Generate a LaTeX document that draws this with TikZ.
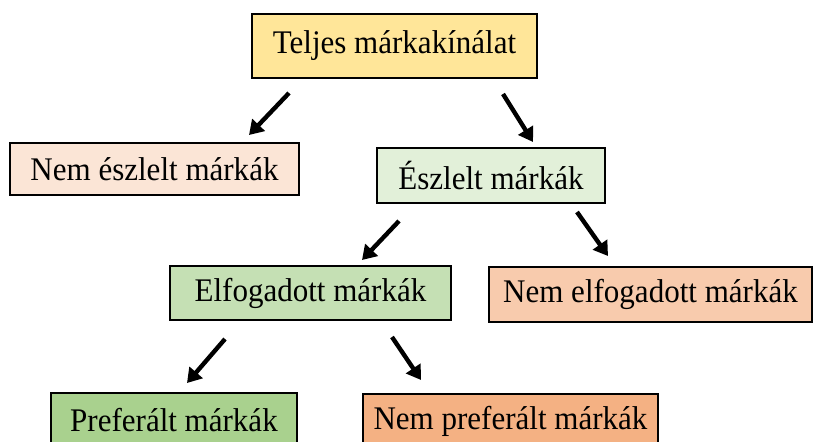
\documentclass[tikz,border=0pt]{standalone}
\usepackage{fontspec}
\setmainfont{Liberation Serif}[FakeStretch=0.94]
\usetikzlibrary{arrows.meta}

\definecolor{gold}{HTML}{FFE699}
\definecolor{peachlight}{HTML}{FBE5D6}
\definecolor{peachmid}{HTML}{F8CBAD}
\definecolor{peachdark}{HTML}{F4B183}
\definecolor{greenlight}{HTML}{E2F0D9}
\definecolor{greenmid}{HTML}{C5E0B4}
\definecolor{greendark}{HTML}{A9D18E}

\begin{document}
\begin{tikzpicture}[x=1pt,y=-1pt,
  box/.style={draw=black, line width=2.6pt, inner sep=0pt,
    font=\fontsize{33}{38}\selectfont},
  arr/.style={line width=4.4pt, -{Triangle[width=17pt,length=14pt]}}]
  \useasboundingbox (0,0) rectangle (815,442);
  \clip (0,0) rectangle (815,442);

  % boxes
  \node[box, fill=gold, minimum width=285pt, minimum height=64pt]
    (total) at (394.5,46) {Teljes márkakínálat};
  \node[box, fill=peachlight, minimum width=289pt, minimum height=52pt]
    (unaware) at (154.5,169) {Nem észlelt márkák};
  \node[box, fill=greenlight, minimum width=228pt, minimum height=55pt]
    (aware) at (491,175.5) {Észlelt márkák};
  \node[box, fill=greenmid, minimum width=281pt, minimum height=54pt]
    (accepted) at (310.5,293) {Elfogadott márkák};
  \node[box, fill=peachmid, minimum width=323pt, minimum height=55pt]
    (rejected) at (650.5,294.5) {Nem elfogadott márkák};
  \node[box, fill=greendark, minimum width=246pt, minimum height=55pt]
    (preferred) at (174,420.5) {Preferált márkák};
  \node[box, fill=peachdark, minimum width=295pt, minimum height=55pt]
    (notpreferred) at (510.5,421.5) {Nem preferált márkák};

  % arrow end points
  \coordinate (a1s) at (289,93);  \coordinate (a1e) at (249,135);
  \coordinate (a2s) at (503,94);  \coordinate (a2e) at (533,142);
  \coordinate (a3s) at (399,221); \coordinate (a3e) at (362,260);
  \coordinate (a4s) at (577,212); \coordinate (a4e) at (608,256);
  \coordinate (a5s) at (225,339); \coordinate (a5e) at (187,383);
  \coordinate (a6s) at (392,337); \coordinate (a6e) at (421,380);

  % arrows
  \draw[arr] (a1s) -- (a1e);
  \draw[arr] (a2s) -- (a2e);
  \draw[arr] (a3s) -- (a3e);
  \draw[arr] (a4s) -- (a4e);
  \draw[arr] (a5s) -- (a5e);
  \draw[arr] (a6s) -- (a6e);
\end{tikzpicture}
\end{document}
